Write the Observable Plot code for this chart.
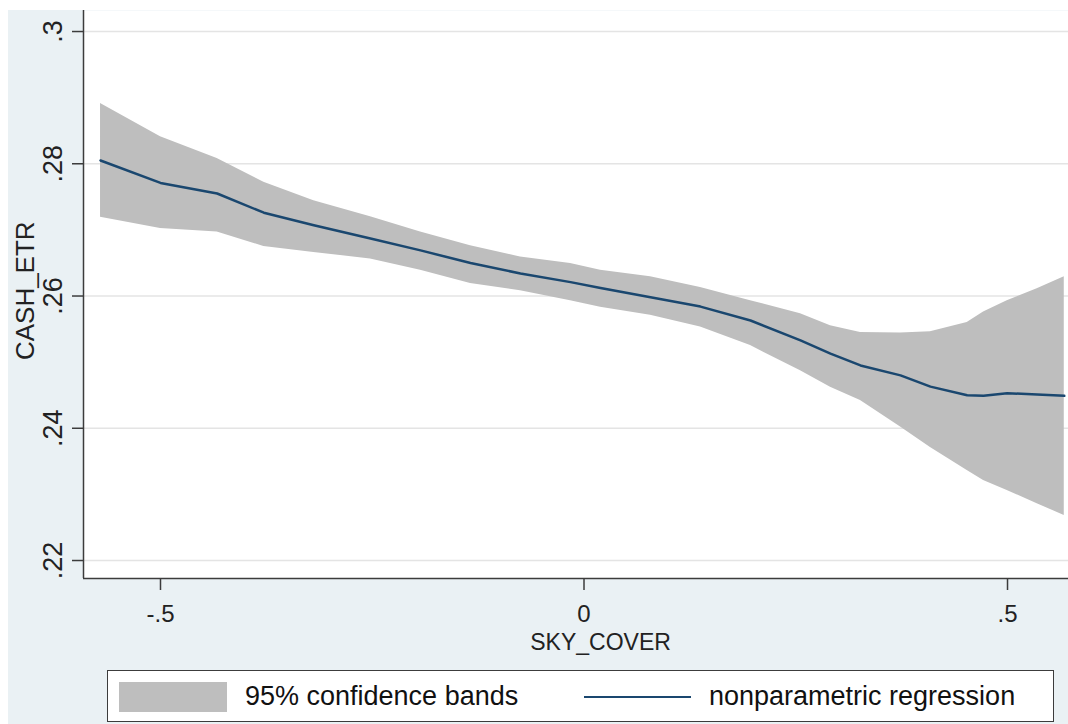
<!DOCTYPE html>
<html>
<head>
<meta charset="utf-8">
<script src="https://cdn.jsdelivr.net/npm/d3@7"></script>
<script src="https://cdn.jsdelivr.net/npm/@observablehq/plot@0.6"></script>
<style>
  html, body { margin: 0; padding: 0; background: #ffffff; }
  body { width: 1068px; height: 724px; position: relative; overflow: hidden;
         font-family: "Liberation Sans", Arial, Helvetica, sans-serif; }
  #fig { position: absolute; left: 8px; top: 10px; width: 1060px; height: 714px; background: #eaf1f4; }
  #chart { position: absolute; left: 0; top: 0; }
  #legend { position: absolute; left: 99px; top: 660px; width: 945px; height: 50px;
            background: #ffffff; border: 1.5px solid #3c3c3c; }
  .sw-band { position: absolute; left: 11px; top: 11px; width: 108px; height: 30px; background: #bebebe; }
  .sw-line { position: absolute; left: 476px; top: 25px; width: 107px; height: 0; border-top: 2px solid #1a476f; }
  .lg-text { position: absolute; top: 8px; font-size: 27px; color: #111; white-space: nowrap; line-height: 34px; }
</style>
</head>
<body>
<div id="fig">
  <div id="chart"></div>
  <div id="legend">
    <div class="sw-band"></div>
    <div class="lg-text" style="left:137px">95% confidence bands</div>
    <div class="sw-line"></div>
    <div class="lg-text" style="left:601px">nonparametric regression</div>
  </div>
</div>
<script>
// ---- data ----
const skyCover = [-0.5708, -0.5000, -0.4331, -0.3780, -0.3190, -0.2521, -0.1930, -0.1340, -0.0750, -0.0159,
                  0.0195, 0.0785, 0.1375, 0.1966, 0.2556, 0.2910, 0.3264, 0.3737, 0.4090, 0.4524,
                  0.4717, 0.4996, 0.5350, 0.5670];
const fitValues = [0.2805, 0.2771, 0.2755, 0.2726, 0.2707, 0.2687, 0.2669, 0.2650, 0.2634, 0.2621,
                   0.2612, 0.2598, 0.2584, 0.2563, 0.2533, 0.2513, 0.2495, 0.2480, 0.2463, 0.2450,
                   0.2449, 0.2453, 0.2451, 0.2449];
const upperBand = [0.2891, 0.2841, 0.2808, 0.2772, 0.2744, 0.2720, 0.2697, 0.2676, 0.2659, 0.2649,
                   0.2639, 0.2629, 0.2613, 0.2593, 0.2573, 0.2555, 0.2545, 0.2544, 0.2546, 0.2560,
                   0.2576, 0.2593, 0.2611, 0.2629];
const lowerBand = [0.2719, 0.2702, 0.2697, 0.2675, 0.2666, 0.2656, 0.2639, 0.2619, 0.2608, 0.2593,
                   0.2583, 0.2571, 0.2553, 0.2525, 0.2487, 0.2462, 0.2442, 0.2402, 0.2371, 0.2336,
                   0.2321, 0.2306, 0.2286, 0.2268];
const xTicks = [-0.5, 0, 0.5];
const yTicks = [0.22, 0.24, 0.26, 0.28, 0.30];
const xTitle = "SKY_COVER";
const yTitle = "CASH_ETR";

const data = skyCover.map((x, i) => ({x, fit: fitValues[i], lo: lowerBand[i], hi: upperBand[i]}));
const xDomain = [-0.5909, 0.572];
const yDomain = [0.21728, 0.30318];
const fmt = d => d === 0 ? "0" : String(+d.toFixed(2)).replace("0.", ".");

const chart = Plot.plot({
  width: 1060,
  height: 650,
  marginLeft: 75,
  marginRight: 0,
  marginTop: 0,
  marginBottom: 82,
  x: {domain: xDomain},
  y: {domain: yDomain},
  style: {background: "transparent", color: "#222", fontFamily: "'Liberation Sans', Arial, sans-serif"},
  marks: [
    Plot.frame({fill: "white", stroke: null}),
    Plot.gridY(yTicks, {stroke: "#e4e4e4", strokeOpacity: 1, strokeWidth: 1.5}),
    Plot.areaY(data, {x: "x", y1: "lo", y2: "hi", fill: "#bebebe"}),
    Plot.lineY(data, {x: "x", y: "fit", stroke: "#1a476f", strokeWidth: 2.5}),
    Plot.ruleX([xDomain[0]], {stroke: "#3c3c3c", strokeWidth: 1.5}),
    Plot.ruleY([yDomain[0]], {stroke: "#3c3c3c", strokeWidth: 1.5}),
    Plot.axisY({ticks: yTicks, tickSize: 11, tickFormat: () => "", label: null, stroke: "#3c3c3c", strokeWidth: 1.5}),
    Plot.text(yTicks, {y: d => d, text: fmt, frameAnchor: "left", rotate: -90, dx: -22,
                       lineAnchor: "bottom", textAnchor: "middle", fontSize: 27, fill: "#222"}),
    Plot.axisX({ticks: xTicks, tickSize: 12, tickPadding: 14, tickFormat: fmt, label: null,
                fontSize: 24, stroke: "#3c3c3c", strokeWidth: 1.5}),
    Plot.text([yTitle], {y: [0.2608], text: d => d, frameAnchor: "left", rotate: -90, dx: -50,
                         lineAnchor: "bottom", textAnchor: "middle", fontSize: 26, fill: "#222"}),
    Plot.text([xTitle], {x: [0.0195], text: d => d, frameAnchor: "bottom", dy: 71,
                         lineAnchor: "bottom", textAnchor: "middle", fontSize: 23, fill: "#222"})
  ]
});
document.getElementById("chart").appendChild(chart);
</script>
</body>
</html>
